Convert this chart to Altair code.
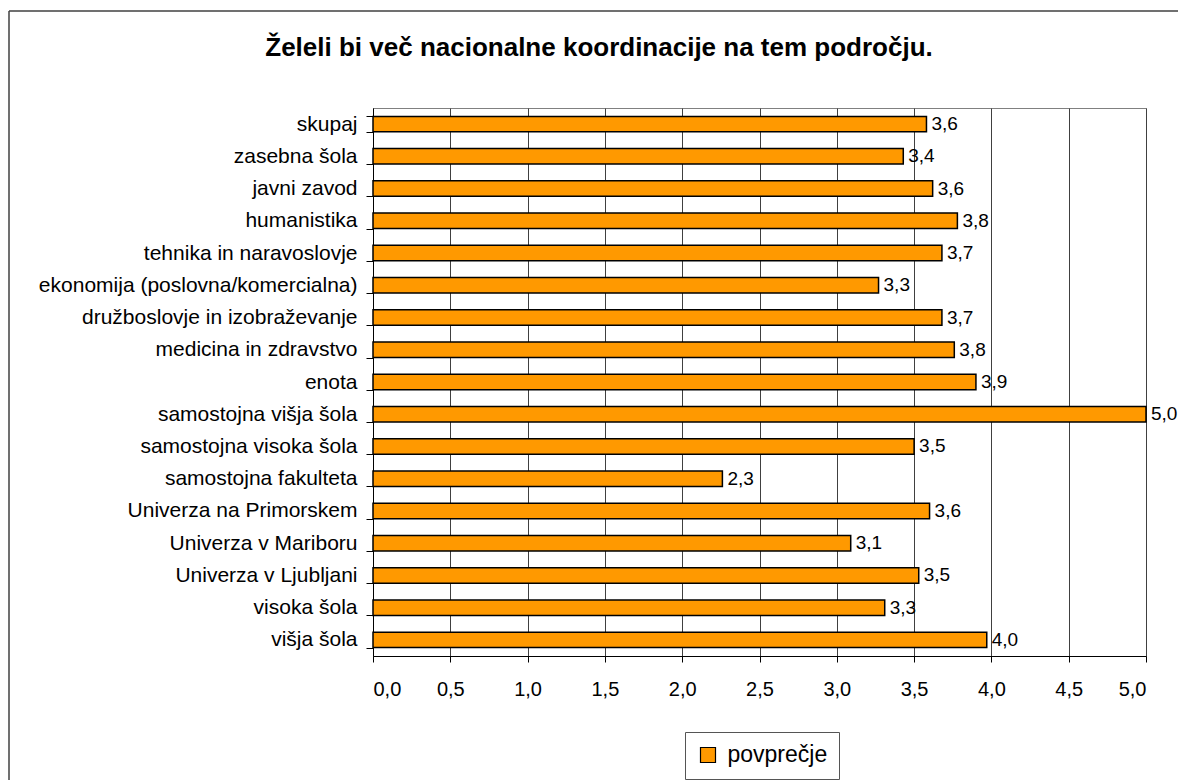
import altair as alt
import pandas as pd

# ---- data ----
categories = [
    "skupaj",
    "zasebna šola",
    "javni zavod",
    "humanistika",
    "tehnika in naravoslovje",
    "ekonomija (poslovna/komercialna)",
    "družboslovje in izobraževanje",
    "medicina in zdravstvo",
    "enota",
    "samostojna višja šola",
    "samostojna visoka šola",
    "samostojna fakulteta",
    "Univerza na Primorskem",
    "Univerza v Mariboru",
    "Univerza v Ljubljani",
    "visoka šola",
    "višja šola",
]
values = [3.58, 3.43, 3.62, 3.78, 3.68, 3.27, 3.68, 3.76, 3.90, 5.00,
          3.50, 2.26, 3.60, 3.09, 3.53, 3.31, 3.97]
series_name = "povprečje"
x_ticks = [0.0, 0.5, 1.0, 1.5, 2.0, 2.5, 3.0, 3.5, 4.0, 4.5, 5.0]
title_text = "Želeli bi več nacionalne koordinacije na tem področju."

df = pd.DataFrame({"kategorija": categories, "vrednost": values})
df["oznaka"] = [f"{v:.1f}".replace(".", ",") for v in values]
df["serija"] = series_name

FONT = "Liberation Sans"

y_enc = alt.Y(
    "kategorija:N",
    sort=categories,
    title=None,
    scale=alt.Scale(paddingInner=0.52, paddingOuter=0.26),
    axis=alt.Axis(
        labelFont=FONT, labelFontSize=21, labelColor="black", labelPadding=9,
        labelLimit=400, tickSize=7, tickColor="black", tickWidth=1,
        domainColor="black", domainWidth=1, tickBand="extent", tickExtra=True,
        grid=False,
    ),
)
x_enc = alt.X(
    "vrednost:Q",
    title=None,
    scale=alt.Scale(domain=[0, 5], nice=False, zero=True),
    axis=alt.Axis(
        values=x_ticks,
        labelExpr="replace(format(datum.value, '.1f'), '.', ',')",
        labelFont=FONT, labelFontSize=20, labelColor="black", labelPadding=17,
        tickSize=6, tickColor="black", tickWidth=1,
        domainColor="black", domainWidth=1,
        grid=True, gridColor="#404040", gridWidth=1, gridOpacity=1,
    ),
)

bars = alt.Chart(df).mark_bar(stroke="black", strokeWidth=1.5, opacity=1).encode(
    x=x_enc,
    y=y_enc,
    color=alt.Color(
        "serija:N",
        scale=alt.Scale(domain=[series_name], range=["#FF9900"]),
        legend=alt.Legend(
            title=None, orient="none", legendX=312, legendY=624,
            direction="vertical", symbolType="square", symbolSize=225,
            symbolStrokeColor="black", symbolStrokeWidth=1.2, symbolOpacity=1,
            labelFont=FONT, labelFontSize=23, labelColor="black", labelOffset=8,
            padding=11.5, strokeColor="#555555", fillColor="white",
        ),
    ),
)

labels = alt.Chart(df).mark_text(
    align="left", baseline="middle", dx=5, font=FONT, fontSize=19, color="black"
).encode(
    x=alt.X("vrednost:Q"),
    y=alt.Y("kategorija:N", sort=categories),
    text="oznaka:N",
)

one = pd.DataFrame({"k": [0]})

frame_left = alt.Chart(one).mark_rule(stroke="#404040", strokeWidth=1.5).encode(
    x=alt.value(-364), y=alt.value(-97), y2=alt.value(3000)
)
frame_top = alt.Chart(one).mark_rule(stroke="#404040", strokeWidth=1.5).encode(
    x=alt.value(-364), x2=alt.value(3000), y=alt.value(-97)
)

title = alt.Chart(one).mark_text(
    align="center", baseline="alphabetic", font=FONT, fontSize=26,
    fontWeight="bold", color="black"
).encode(
    x=alt.value(226), y=alt.value(-52), text=alt.value(title_text)
)

chart = alt.layer(frame_left, frame_top, title, bars, labels).properties(
    width=773,
    height=548,
    padding={"left": 365, "top": 100, "right": 32, "bottom": 124},
    autosize=alt.AutoSizeParams(type="none"),
).configure(background="white").configure_view(stroke="#808080", strokeWidth=1)

chart.save("out.html", embed_options={"renderer": "svg", "actions": False})
